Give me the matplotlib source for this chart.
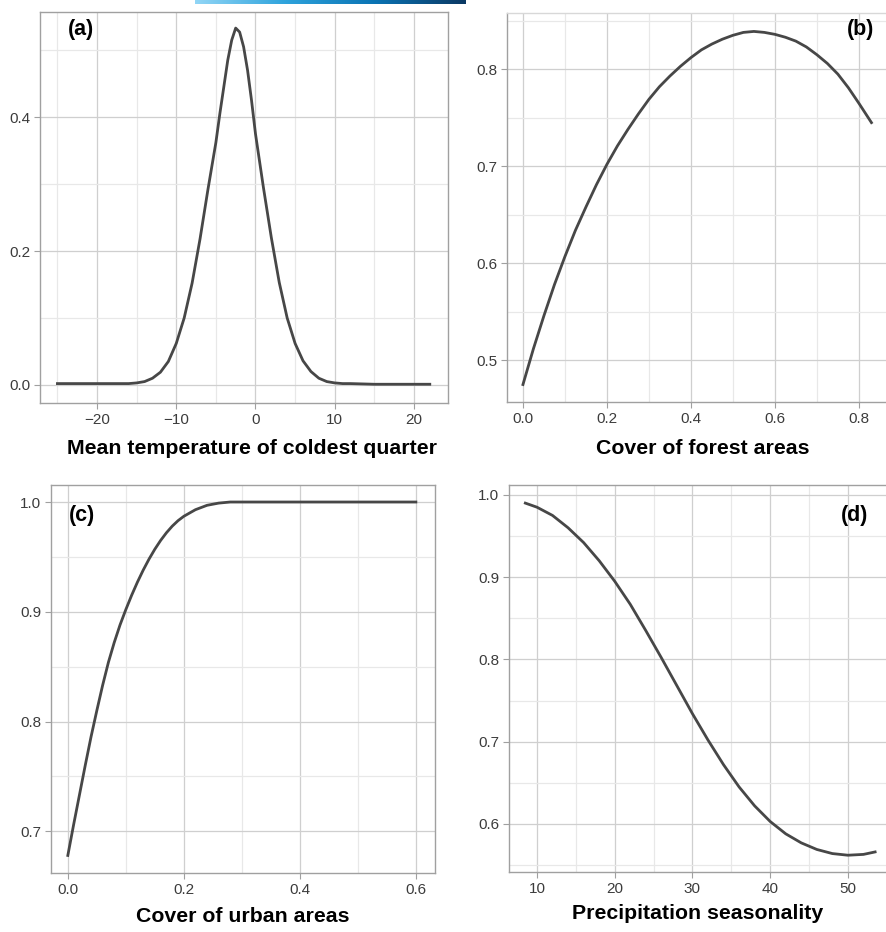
import numpy as np
import matplotlib
matplotlib.use("Agg")
import matplotlib.pyplot as plt
from matplotlib.colors import LinearSegmentedColormap
from matplotlib.ticker import MultipleLocator, FormatStrFormatter

plt.rcParams['font.family'] = ['Liberation Sans', 'DejaVu Sans']

# (a) mean temperature of coldest quarter
temp_x = [-25, -20, -16, -15, -14, -13, -12, -11, -10, -9, -8, -7, -6, -5, -4.5, -4,
          -3.5, -3, -2.5, -2, -1.5, -1, -0.5, 0, 1, 2, 3, 4, 5, 6, 7, 8, 9, 10,
          11, 12, 15, 20, 22]
temp_y = [0.002, 0.002, 0.002, 0.003, 0.005, 0.010, 0.019, 0.035, 0.062, 0.100,
          0.152, 0.218, 0.292, 0.362, 0.405, 0.445, 0.485, 0.515, 0.533, 0.527,
          0.505, 0.470, 0.425, 0.375, 0.295, 0.220, 0.153, 0.100, 0.062, 0.036,
          0.020, 0.010, 0.005, 0.003, 0.002, 0.002, 0.001, 0.001, 0.001]

# (b) cover of forest areas
forest_x = [0.0, 0.025, 0.05, 0.075, 0.1, 0.125, 0.15, 0.175, 0.2, 0.225, 0.25,
            0.275, 0.3, 0.325, 0.35, 0.375, 0.4, 0.425, 0.45, 0.475, 0.5, 0.525,
            0.55, 0.575, 0.6, 0.625, 0.65, 0.675, 0.7, 0.725, 0.75, 0.775, 0.8, 0.83]
forest_y = [0.475, 0.512, 0.546, 0.578, 0.607, 0.634, 0.658, 0.681, 0.702, 0.721,
            0.738, 0.754, 0.769, 0.782, 0.793, 0.803, 0.812, 0.820, 0.826, 0.831,
            0.835, 0.838, 0.839, 0.838, 0.836, 0.833, 0.829, 0.823, 0.815, 0.806,
            0.795, 0.781, 0.765, 0.745]

# (c) cover of urban areas
urban_x = [0.0, 0.01, 0.02, 0.03, 0.04, 0.05, 0.06, 0.07, 0.08, 0.09, 0.10, 0.11,
           0.12, 0.13, 0.14, 0.15, 0.16, 0.17, 0.18, 0.19, 0.20, 0.22, 0.24, 0.26,
           0.28, 0.3, 0.4, 0.5, 0.6]
urban_y = [0.678, 0.706, 0.733, 0.760, 0.786, 0.810, 0.833, 0.854, 0.872, 0.888,
           0.902, 0.915, 0.927, 0.938, 0.948, 0.957, 0.965, 0.972, 0.978, 0.983,
           0.987, 0.993, 0.997, 0.999, 1.0, 1.0, 1.0, 1.0, 1.0]

# (d) precipitation seasonality
prec_x = [8.5, 10, 12, 14, 16, 18, 20, 22, 24, 26, 28, 30, 32, 34, 36, 38, 40, 42,
          44, 46, 48, 50, 52, 53.5]
prec_y = [0.990, 0.985, 0.975, 0.960, 0.942, 0.920, 0.895, 0.867, 0.835, 0.802,
          0.768, 0.734, 0.702, 0.672, 0.645, 0.622, 0.603, 0.588, 0.577, 0.569,
          0.564, 0.562, 0.563, 0.566]

W, H = 886, 932
fig = plt.figure(figsize=(W / 100, H / 100), dpi=100)


def box(l, r, t, b):
    return [l / W, 1 - b / H, (r - l) / W, (b - t) / H]


line_col = '#474747'
spine_col = '#a0a0a0'


def style(ax, xmaj, xmin, ymaj, ymin, xlim, ylim):
    ax.set_xlim(*xlim)
    ax.set_ylim(*ylim)
    ax.xaxis.set_major_locator(MultipleLocator(xmaj))
    ax.xaxis.set_minor_locator(MultipleLocator(xmin))
    ax.yaxis.set_major_locator(MultipleLocator(ymaj))
    ax.yaxis.set_minor_locator(MultipleLocator(ymin))
    ax.grid(which='major', color='#cfcfcf', lw=0.9)
    ax.grid(which='minor', color='#e8e8e8', lw=0.9)
    ax.set_axisbelow(True)
    ax.tick_params(which='major', direction='out', length=4, color=spine_col,
                   labelsize=11, labelcolor='#3c3c3c', pad=3)
    ax.tick_params(which='minor', length=0)
    for s in ax.spines.values():
        s.set_color(spine_col)
        s.set_linewidth(1)


def panel_label(ax, x, y, txt):
    ax.text(x, y, txt, transform=ax.transAxes, fontsize=15.5,
            fontweight='bold', ha='center', va='center')


# panel (a)
ax = fig.add_axes(box(40, 448, 12, 403))
ax.plot(temp_x, temp_y, color=line_col, lw=2, solid_joinstyle='round')
style(ax, 10, 5, 0.2, 0.1, (-27.2, 24.3), (-0.027, 0.557))
ax.yaxis.set_major_formatter(FormatStrFormatter('%.1f'))
ax.set_xlabel('Mean temperature of coldest quarter', fontsize=15.3, fontweight='bold')
ax.xaxis.set_label_coords((252 - 40) / 408, -36 / 391)
panel_label(ax, (81 - 40) / 408, 1 - 18 / 391, '(a)')

# panel (b)
ax = fig.add_axes(box(507, 900, 13, 402))
ax.plot(forest_x, forest_y, color=line_col, lw=2, solid_joinstyle='round')
style(ax, 0.2, 0.1, 0.1, 0.05, (-0.038, 0.898), (0.457, 0.858))
ax.spines['top'].set_color('#d8d8d8')
ax.set_xlabel('Cover of forest areas', fontsize=15.3, fontweight='bold')
ax.xaxis.set_label_coords((703 - 507) / 393, -37 / 389)
panel_label(ax, (861 - 507) / 393, 1 - 17 / 389, '(b)')

# panel (c)
ax = fig.add_axes(box(51, 435, 485, 873))
ax.plot(urban_x, urban_y, color=line_col, lw=2, solid_joinstyle='round')
style(ax, 0.2, 0.1, 0.1, 0.05, (-0.029, 0.633), (0.662, 1.0155))
ax.set_xlabel('Cover of urban areas', fontsize=15.3, fontweight='bold')
ax.xaxis.set_label_coords(0.5, -34 / 388)
panel_label(ax, (82 - 51) / 384, 1 - 30 / 388, '(c)')

# panel (d)
ax = fig.add_axes(box(509, 886, 485, 872))
ax.plot(prec_x, prec_y, color=line_col, lw=2, solid_joinstyle='round')
style(ax, 10, 5, 0.1, 0.05, (6.4, 54.9), (0.5416, 1.012))
ax.spines['right'].set_visible(False)
ax.set_xlabel('Precipitation seasonality', fontsize=15.3, fontweight='bold')
ax.xaxis.set_label_coords(0.5, -32 / 387)
panel_label(ax, (855 - 509) / 377, 1 - 30 / 387, '(d)')

# gradient strip at the top edge
bar = fig.add_axes(box(195, 466, 0, 4))
cmap = LinearSegmentedColormap.from_list('strip', ['#92d6f6', '#2ea3dc', '#0a73b3', '#0b3863'])
bar.imshow(np.linspace(0, 1, 256)[None, :], aspect='auto', cmap=cmap)
bar.axis('off')

fig.savefig('out.png', dpi=100)
